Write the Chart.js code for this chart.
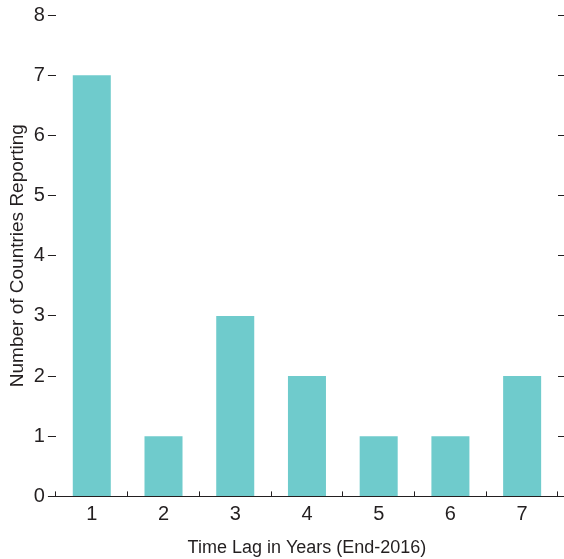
<!DOCTYPE html>
<html>
<head>
<meta charset="utf-8">
<script src="https://cdn.jsdelivr.net/npm/chart.js@4"></script>
<style>
html,body{margin:0;padding:0;background:#fff;}
canvas{display:block;}
</style>
</head>
<body>
<canvas id="c" width="564" height="559"></canvas>
<script>
const categories = ["1","2","3","4","5","6","7"];
const countries = [7,1,3,2,1,1,2];
const yTicks = [0,1,2,3,4,5,6,7,8];
const xTitle = "Time Lag in Years (End-2016)";
const yTitle = "Number of Countries Reporting";

const FONT = "'Liberation Sans', Arial, sans-serif";
const ink = "#231f20";

new Chart(document.getElementById('c'), {
  type: 'bar',
  data: {
    labels: categories,
    datasets: [{
      data: countries,
      backgroundColor: '#6fcbcc',
      borderWidth: 0,
      categoryPercentage: 1,
      barPercentage: 0.53,
      yAxisID: 'y'
    }]
  },
  options: {
    responsive: false,
    animation: false,
    layout: { padding: { top: 3, left: 3, right: 0, bottom: 0 } },
    plugins: { legend: { display: false }, tooltip: { enabled: false } },
    scales: {
      x: {
        grid: { display: true, drawOnChartArea: false, drawTicks: true, tickLength: -5, offset: true, color: ink, lineWidth: 1 },
        border: { display: true, color: ink, width: 1 },
        ticks: { color: ink, font: { family: FONT, size: 20, lineHeight: 1 }, padding: 13 },
        title: { display: true, text: xTitle, color: ink, font: { family: FONT, size: 18, lineHeight: 1.2 }, padding: { top: 0, bottom: 0 } }
      },
      y: {
        position: 'left',
        min: 0, max: 8,
        afterBuildTicks: (s) => { s.ticks = yTicks.map(v => ({ value: v })); },
        grid: { display: true, drawOnChartArea: false, drawTicks: true, tickLength: 8, color: ink, lineWidth: 1 },
        border: { display: false },
        ticks: { color: ink, font: { family: FONT, size: 20 }, padding: 3 },
        title: { display: true, text: yTitle, color: ink, font: { family: FONT, size: 19, lineHeight: 1.2 }, padding: { top: 3, bottom: 2 } }
      },
      y2: {
        position: 'right',
        min: 0, max: 8,
        afterBuildTicks: (s) => { s.ticks = yTicks.map(v => ({ value: v })); },
        grid: { display: true, drawOnChartArea: false, drawTicks: true, tickLength: 6, color: ink, lineWidth: 1 },
        border: { display: false },
        ticks: { display: false }
      }
    }
  }
});
</script>
</body>
</html>
